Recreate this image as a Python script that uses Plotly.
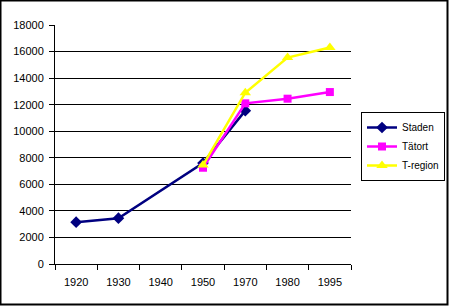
import plotly.graph_objects as go

years = ["1920", "1930", "1940", "1950", "1970", "1980", "1995"]
staden = [3150, 3450, None, 7600, 11550, None, None]
tatort = [None, None, None, 7250, 12100, 12450, 12950]
tregion = [None, None, None, 7450, 12900, 15550, 16300]
y_ticks = [0, 2000, 4000, 6000, 8000, 10000, 12000, 14000, 16000, 18000]

W, H = 449, 306
L, R, T, B = 55, 98, 25, 42
pw = W - L - R
ph = H - T - B

fig = go.Figure()
fig.add_trace(go.Scatter(x=years, y=staden, name="Staden", mode="lines+markers",
                         connectgaps=True,
                         line=dict(color="#000080", width=2.5),
                         marker=dict(symbol="diamond", size=9, color="#000080")))
fig.add_trace(go.Scatter(x=years, y=tatort, name="Tätort", mode="lines+markers",
                         line=dict(color="#FF00FF", width=2.5),
                         marker=dict(symbol="square", size=8, color="#FF00FF")))
fig.add_trace(go.Scatter(x=years, y=tregion, name="T-region", mode="lines+markers",
                         line=dict(color="#FFFF00", width=2.5),
                         marker=dict(symbol="triangle-up", size=10, color="#FFFF00")))

fig.update_layout(
    width=W, height=H,
    margin=dict(l=L, r=R, t=T, b=B, pad=0, autoexpand=False),
    paper_bgcolor="white", plot_bgcolor="white",
    font=dict(family="Liberation Sans, Arial", size=11, color="black"),
    showlegend=True,
    legend=dict(x=(361 - L) / pw, y=(H - B - 112) / ph, xanchor="left", yanchor="top",
                bordercolor="black", borderwidth=1, bgcolor="white",
                font=dict(size=10), tracegroupgap=0, itemwidth=30),
    xaxis=dict(type="category", categoryorder="array", categoryarray=years,
               tickson="boundaries", ticks="outside", ticklen=5, tickcolor="black",
               showline=True, linecolor="black", linewidth=1, showgrid=False,
               range=[-0.5, 6.5], zeroline=False, ticklabelstandoff=8),
    yaxis=dict(range=[0, 18000], tickvals=y_ticks, ticktext=[str(v) for v in y_ticks],
               ticks="outside", ticklen=5,
               tickcolor="black", showline=True, linecolor="black", linewidth=1,
               showgrid=True, gridcolor="black", gridwidth=1, zeroline=False,
               ticklabelstandoff=3),
    shapes=[dict(type="rect", xref="paper", yref="paper",
                 x0=(-L + 0.5) / pw, x1=(W - L - 1.5) / pw,
                 y0=(-B + 1.5) / ph, y1=(H - B - 0.5) / ph,
                 line=dict(color="black", width=2))],
)

fig.write_html("out.html")
